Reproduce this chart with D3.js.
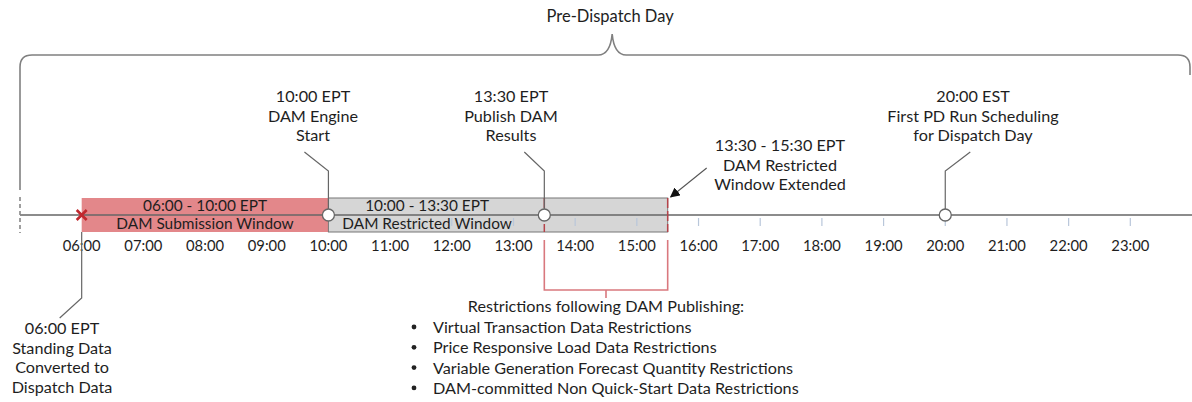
<!DOCTYPE html>
<html>
<head>
<meta charset="utf-8">
<script src="https://cdn.jsdelivr.net/npm/d3@7"></script>
<style>
  body { margin: 0; background: #fff; }
  text { font-family: Lato, "Open Sans", sans-serif; fill: #1e1e1e; }
</style>
</head>
<body>
<div id="chart"></div>
<script>
// hours shown on the timeline
var hours = [6, 7, 8, 9, 10, 11, 12, 13, 14, 15, 16, 17, 18, 19, 20, 21, 22, 23];

// windows drawn as boxes on the axis
var windows = [
  { start: 6, end: 10, fill: "#e3878a", lines: ["06:00 - 10:00 EPT", "DAM Submission Window"] },
  { start: 10, end: 15.5, fill: "#d6d6d6", lines: ["10:00 - 13:30 EPT", "DAM Restricted Window"] }
];

// milestones with callouts above the axis
var events = [
  { t: 10, dx: -24, tx: 313, lines: ["10:00 EPT", "DAM Engine", "Start"] },
  { t: 13.5, dx: -20, tx: 511, lines: ["13:30 EPT", "Publish DAM", "Results"] },
  { t: 20, dx: 25, tx: 973, lines: ["20:00 EST", "First PD Run Scheduling", "for Dispatch Day"] }
];

var extendedLines = ["13:30 - 15:30 EPT", "DAM Restricted", "Window Extended"];
var standingLines = ["06:00 EPT", "Standing Data", "Converted to", "Dispatch Data"];
var restrictTitle = "Restrictions following DAM Publishing:";
var restrictions = [
  "Virtual Transaction Data Restrictions",
  "Price Responsive Load Data Restrictions",
  "Variable Generation Forecast Quantity Restrictions",
  "DAM-committed Non Quick-Start Data Restrictions"
];

var width = 1192, height = 402;
var axisY = 215;
var fs = 16.2;

var svg = d3.select("#chart").append("svg")
  .attr("width", width)
  .attr("height", height);

svg.append("defs").append("marker")
  .attr("id", "arrow")
  .attr("viewBox", "0 0 10 10")
  .attr("refX", 9).attr("refY", 5)
  .attr("markerWidth", 9).attr("markerHeight", 9)
  .attr("orient", "auto")
  .append("path")
  .attr("d", "M0,0L10,5L0,10Z")
  .attr("fill", "#111");

var x = d3.scaleLinear().domain([5, 24]).range([20, 1192]);

// big brace over the whole day
var bTop = 55, bMid = x(14.6), r = 12;
var brace = d3.path();
brace.moveTo(x(5), 190);
brace.lineTo(x(5), bTop + r);
brace.quadraticCurveTo(x(5), bTop, x(5) + r, bTop);
brace.lineTo(bMid - 14, bTop);
brace.quadraticCurveTo(bMid - 2, bTop, bMid, bTop - 21);
brace.moveTo(bMid, bTop - 21);
brace.quadraticCurveTo(bMid + 2, bTop, bMid + 14, bTop);
brace.lineTo(1190 - r, bTop);
brace.quadraticCurveTo(1190, bTop, 1190, bTop + r);
brace.lineTo(1190, 75);
svg.append("path").attr("d", brace.toString())
  .attr("fill", "none").attr("stroke", "#808080").attr("stroke-width", 1.6);

svg.append("text").attr("x", bMid - 2).attr("y", 22)
  .attr("text-anchor", "middle").attr("font-size", 16.5)
  .text("Pre-Dispatch  Day");

// window boxes
svg.selectAll("rect.win").data(windows).enter().append("rect")
  .attr("class", "win")
  .attr("x", function (d) { return x(d.start); })
  .attr("y", axisY - 17)
  .attr("width", function (d) { return x(d.end) - x(d.start); })
  .attr("height", 34)
  .attr("fill", function (d) { return d.fill; })
  .attr("stroke", function (d, i) { return i ? "#777" : "none"; });

// ticks
svg.selectAll("line.tick").data(hours.filter(function (h) { return h > 10; })).enter()
  .append("line")
  .attr("x1", function (d) { return x(d); }).attr("x2", function (d) { return x(d); })
  .attr("y1", axisY + 3).attr("y2", axisY + 11)
  .attr("stroke", "#b9c7da").attr("stroke-width", 1.2);

// axis line
svg.append("line").attr("x1", x(5)).attr("x2", width).attr("y1", axisY).attr("y2", axisY)
  .attr("stroke", "#666").attr("stroke-width", 1.3);

svg.append("line").attr("x1", x(5)).attr("x2", x(5)).attr("y1", axisY - 18).attr("y2", axisY + 18)
  .attr("stroke", "#888").attr("stroke-width", 1.6).attr("stroke-dasharray", "4,3");

// red dashed markers at 13:30 and 15:30
[13.5, 15.5].forEach(function (t) {
  svg.append("line").attr("x1", x(t)).attr("x2", x(t)).attr("y1", axisY - 17).attr("y2", axisY + 17)
    .attr("stroke", "#b5434a").attr("stroke-width", 1.5).attr("stroke-dasharray", "10,3");
});

// box labels
windows.forEach(function (d, i) {
  var cx = i ? x(11.6) : (x(d.start) + x(d.end)) / 2;
  d.lines.forEach(function (l, j) {
    svg.append("text").attr("x", cx).attr("y", axisY - 4 + j * 18)
      .attr("text-anchor", "middle").attr("font-size", 15.4).text(l);
  });
});

// hour labels
svg.selectAll("text.hr").data(hours).enter().append("text")
  .attr("class", "hr")
  .attr("x", function (d) { return x(d); })
  .attr("y", axisY + 36)
  .attr("text-anchor", "middle").attr("font-size", 14.8)
  .text(function (d) { return d3.format("02")(d) + ":00"; });

// event callouts
events.forEach(function (e) {
  var ex = x(e.t);
  svg.append("path")
    .attr("d", "M" + ex + "," + axisY + "V" + (axisY - 44) + "L" + (ex + e.dx) + "," + (axisY - 63))
    .attr("fill", "none").attr("stroke", "#666").attr("stroke-width", 1.2);
  e.lines.forEach(function (l, j) {
    svg.append("text").attr("x", e.tx)
      .attr("y", 102 + j * 19.5)
      .attr("text-anchor", "middle").attr("font-size", fs).text(l);
  });
  svg.append("circle").attr("cx", ex).attr("cy", axisY).attr("r", 6)
    .attr("fill", "#fff").attr("stroke", "#666").attr("stroke-width", 1.3);
});

// extended window callout
svg.append("line").attr("x1", x(15.5) + 39).attr("y1", axisY - 47)
  .attr("x2", x(15.5) + 3).attr("y2", axisY - 18)
  .attr("stroke", "#555").attr("stroke-width", 1.1).attr("marker-end", "url(#arrow)");
extendedLines.forEach(function (l, j) {
  svg.append("text").attr("x", 780).attr("y", 151 + j * 19.5)
    .attr("text-anchor", "middle").attr("font-size", fs).text(l);
});

// 06:00 callout below
var sx = x(6);
svg.append("path")
  .attr("d", "M" + sx + "," + (axisY + 17) + "V" + 298 + "L" + (sx - 22) + "," + 318)
  .attr("fill", "none").attr("stroke", "#666").attr("stroke-width", 1.2);
svg.append("path")
  .attr("d", "M" + (sx - 5) + "," + (axisY - 5) + "L" + (sx + 5) + "," + (axisY + 5) +
    "M" + (sx - 5) + "," + (axisY + 5) + "L" + (sx + 5) + "," + (axisY - 5))
  .attr("stroke", "#c0282e").attr("stroke-width", 2.6);
standingLines.forEach(function (l, j) {
  svg.append("text").attr("x", 62).attr("y", 334 + j * 19.5)
    .attr("text-anchor", "middle").attr("font-size", fs).text(l);
});

// red bracket under the restricted extension
var bx1 = x(13.5), bx2 = x(15.5), by = 290;
svg.append("path")
  .attr("d", "M" + bx1 + ",240V" + by + "H" + bx2 + "V240M" + ((bx1 + bx2) / 2) + "," + by + "V" + (by + 8))
  .attr("fill", "none").attr("stroke", "#d9787e").attr("stroke-width", 1.6);

svg.append("text").attr("x", (bx1 + bx2) / 2).attr("y", 312)
  .attr("text-anchor", "middle").attr("font-size", fs).text(restrictTitle);
restrictions.forEach(function (l, j) {
  svg.append("circle").attr("cx", 414).attr("cy", 327 + j * 20.3).attr("r", 2.4).attr("fill", "#222");
  svg.append("text").attr("x", 433).attr("y", 333 + j * 20.3).attr("font-size", fs).text(l);
});
</script>
</body>
</html>
